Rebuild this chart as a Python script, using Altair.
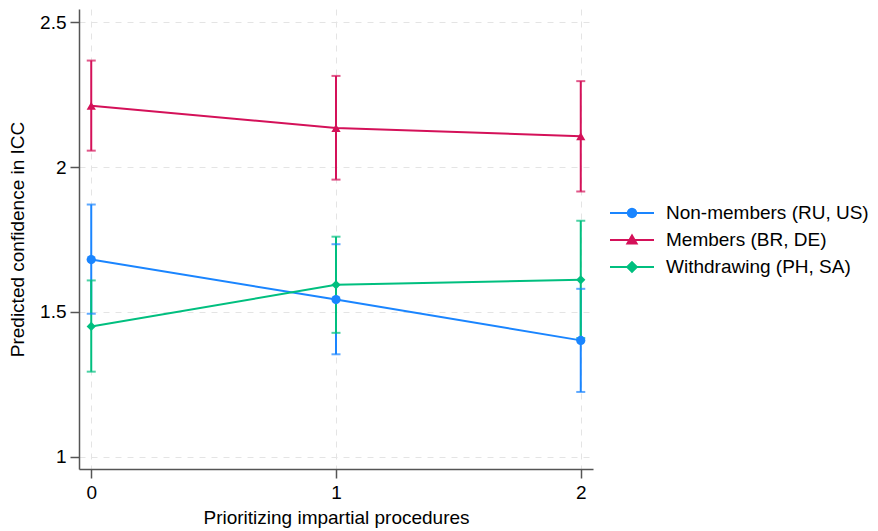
import math
import altair as alt
import pandas as pd

# ---- data ----
x_vals = [0, 1, 2]
series_names = ["Non-members (RU, US)", "Members (BR, DE)", "Withdrawing (PH, SA)"]

nonmem_est = [1.681, 1.543, 1.402]
nonmem_lo = [1.494, 1.354, 1.224]
nonmem_hi = [1.871, 1.734, 1.580]

mem_est = [2.212, 2.135, 2.107]
mem_lo = [2.057, 1.957, 1.916]
mem_hi = [2.368, 2.315, 2.297]

wd_est = [1.450, 1.594, 1.611]
wd_lo = [1.294, 1.428, 1.410]
wd_hi = [1.609, 1.760, 1.815]

y_ticks = [1, 1.5, 2, 2.5]
colors = ["#1a85ff", "#d41159", "#00bf7f"]
marker_shapes = ["circle", "triangle-up", "diamond"]


# legend symbols: a short line with the marker in the middle (custom paths)
def _circle_path(cx, r, n=16):
    pts = [(cx + r * math.cos(2 * math.pi * k / n), r * math.sin(2 * math.pi * k / n)) for k in range(n)]
    return "M" + "L".join(f"{px:.3f},{py:.3f}" for px, py in pts) + "Z"


LINE_SEG = "M-1,0L3.4,0"
legend_paths = [
    LINE_SEG + _circle_path(1.2, 0.42),
    LINE_SEG + "M1.2,-0.46L1.66,0.34L0.74,0.34Z",
    LINE_SEG + "M1.2,-0.48L1.68,0L1.2,0.48L0.72,0Z",
]

rows = []
for name, est, lo, hi in zip(series_names,
                             [nonmem_est, mem_est, wd_est],
                             [nonmem_lo, mem_lo, wd_lo],
                             [nonmem_hi, mem_hi, wd_hi]):
    for xv, e, l, h in zip(x_vals, est, lo, hi):
        rows.append({"x": xv, "series": name, "est": e, "lo": l, "hi": h})
df = pd.DataFrame(rows)

FONT = "Liberation Sans"

x_enc = alt.X("x:Q",
              scale=alt.Scale(domain=[-0.05, 2.05], nice=False, zero=False),
              axis=alt.Axis(values=x_vals, tickCount=3, format="~g", labelOverlap=False,
                            labelFlush=False,
                            title="Prioritizing impartial procedures",
                            titlePadding=6, labelPadding=5))
y_scale = alt.Scale(domain=[0.958, 2.546], nice=False, zero=False)
y_axis = alt.Axis(values=y_ticks, tickCount=4, format="~g", labelOverlap=False,
                  title="Predicted confidence in ICC",
                  titlePadding=12, labelPadding=4)

base = alt.Chart(df)

err_layers, cap_layers, line_layers, point_layers = [], [], [], []
for name, col, shp in zip(series_names, colors, marker_shapes):
    sub = base.transform_filter(alt.datum.series == name)
    err_layers.append(sub.mark_rule(strokeWidth=2, color=col).encode(
        x=x_enc, y=alt.Y("lo:Q", scale=y_scale, axis=y_axis), y2="hi:Q"))
    for fld in ["lo", "hi"]:
        cap_layers.append(sub.mark_tick(thickness=2, size=9, orient="horizontal", color=col).encode(
            x=x_enc, y=alt.Y(f"{fld}:Q", scale=y_scale, axis=y_axis)))
    line_layers.append(sub.mark_line(strokeWidth=2, color=col).encode(
        x=x_enc, y=alt.Y("est:Q", scale=y_scale, axis=y_axis)))
    point_layers.append(sub.mark_point(shape=shp, filled=True, size=85, opacity=1, color=col).encode(
        x=x_enc, y=alt.Y("est:Q", scale=y_scale, axis=y_axis)))

leg = alt.Legend(title=None, orient="none", legendX=530, legendY=193,
                 symbolSize=400, symbolStrokeWidth=2, symbolOpacity=1,
                 labelOffset=35, labelFont=FONT, labelFontSize=19,
                 labelColor="#000000", rowPadding=6, labelLimit=400)

legend_layer = base.mark_point(size=0, filled=True, strokeWidth=2, opacity=1).encode(
    x=x_enc,
    y=alt.Y("est:Q", scale=y_scale, axis=y_axis),
    fill=alt.Fill("series:N", scale=alt.Scale(domain=series_names, range=colors), legend=leg),
    stroke=alt.Stroke("series:N", scale=alt.Scale(domain=series_names, range=colors), legend=leg),
    shape=alt.Shape("series:N", scale=alt.Scale(domain=series_names, range=legend_paths), legend=leg),
)

chart = alt.layer(*err_layers, *cap_layers, *line_layers, *point_layers, legend_layer).properties(
    width=514, height=460,
    padding={"left": 71, "top": 1, "right": 277, "bottom": 62},
    autosize=alt.AutoSizeParams(type="none"),
    background="white",
).configure_view(stroke=None).configure_axis(
    labelFont=FONT, titleFont=FONT,
    labelFontSize=19, titleFontSize=19,
    labelColor="#000000", titleColor="#000000",
    titleFontWeight="normal",
    domainColor="#555555", domainWidth=1.5,
    tickColor="#555555", tickWidth=1.5, tickSize=9,
    gridColor="#e4e4e4", gridDash=[6, 6], gridWidth=1,
)

chart.save("out.html", embed_options={"renderer": "svg", "actions": False})
